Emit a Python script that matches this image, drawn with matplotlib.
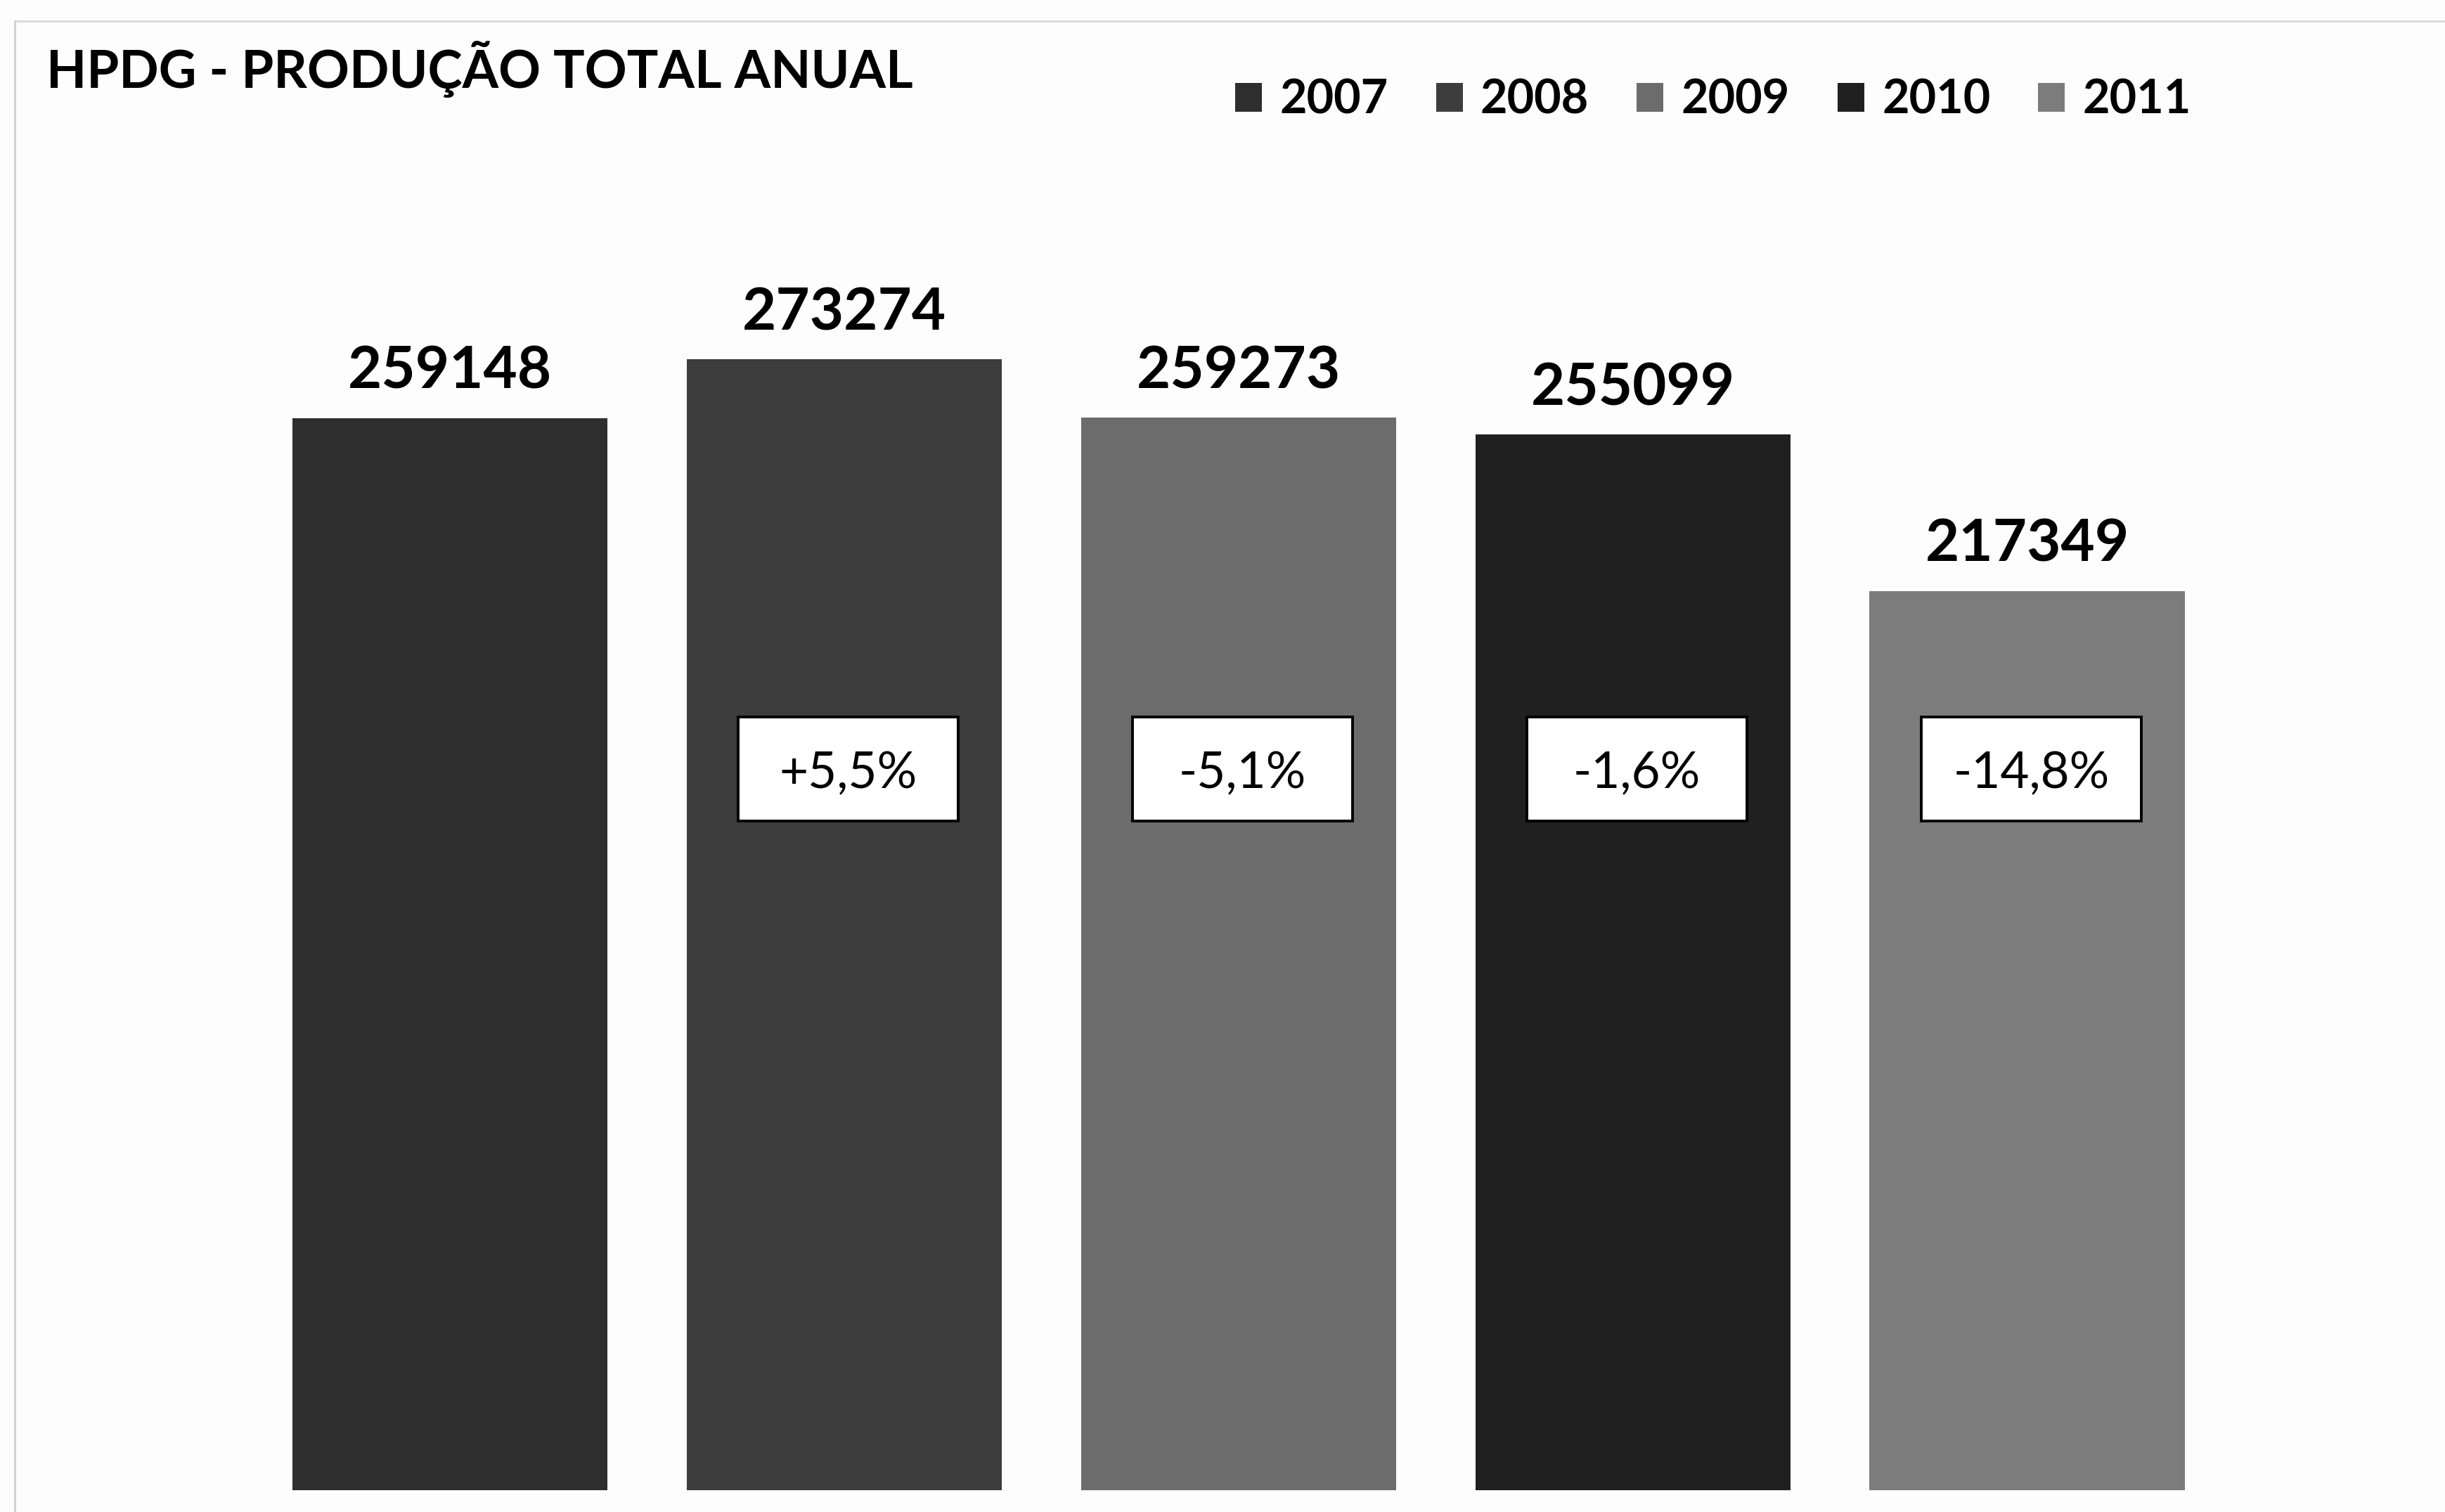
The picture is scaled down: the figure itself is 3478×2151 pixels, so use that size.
import matplotlib.pyplot as plt
from matplotlib.lines import Line2D
from matplotlib.patches import Rectangle
from matplotlib.transforms import blended_transform_factory

years = ["2007", "2008", "2009", "2010", "2011"]
producao = [259148, 273274, 259273, 255099, 217349]
cores = ["#2e2e2e", "#3d3d3d", "#6c6c6c", "#202020", "#7c7c7c"]

plt.rcParams["font.family"] = ["Lato", "DejaVu Sans"]

fig = plt.figure(figsize=(34.78, 21.51), dpi=100)
fig.patch.set_facecolor("#fdfdfd")

ax = fig.add_axes([0.1034, 0.0144, 0.8064, 0.821])
ax.set_facecolor("none")

x = list(range(len(years)))
bars = ax.bar(x, producao, width=0.8, color=cores, label=years)

ax.set_xlim(-0.5, len(years) - 0.5)
ax.set_ylim(0, 300000)
ax.axis("off")

# valores no topo das barras
for xi, v in zip(x, producao):
    ax.annotate(str(v), (xi, v), xytext=(0, 20), textcoords="offset points",
                ha="center", va="bottom", fontsize=60, fontweight="bold")

# variação em relação ao ano anterior
trans = blended_transform_factory(ax.transData, ax.transAxes)
box_w, box_h, box_y = 0.558, 0.0838, 0.581
for i in range(1, len(producao)):
    var = (producao[i] / producao[i - 1] - 1) * 100
    txt = f"{var:+.1f}%".replace(".", ",")
    ax.add_patch(Rectangle((x[i] + 0.01 - box_w / 2, box_y - box_h / 2), box_w, box_h,
                           transform=trans, facecolor="white", edgecolor="black",
                           linewidth=2.8, zorder=3))
    ax.text(x[i] + 0.01, box_y - 0.004, txt, transform=trans, ha="center",
            va="center", fontsize=51, zorder=4)

fig.text(66 / 3478, 1 - 125 / 2151, "HPDG - PRODUÇÃO TOTAL ANUAL",
         fontsize=53.5, fontweight="bold", ha="left", va="baseline")

fig.legend(handles=list(bars), labels=years, loc="center left",
           bbox_to_anchor=(1757 / 3478, 1 - 143 / 2151), ncol=5, frameon=False,
           prop={"size": 48, "weight": "bold"}, handlelength=0.57,
           handleheight=0.57, handletextpad=0.38, columnspacing=1.02,
           borderpad=0, borderaxespad=0)

# moldura ténue do gráfico
fig.add_artist(Line2D([0.006, 1], [1 - 30 / 2151] * 2, color="#d8d8d8", linewidth=2))
fig.add_artist(Line2D([0.006, 0.006], [0, 1 - 30 / 2151], color="#d0d0d0", linewidth=2))

fig.savefig("out.png", dpi=100, facecolor=fig.get_facecolor())
